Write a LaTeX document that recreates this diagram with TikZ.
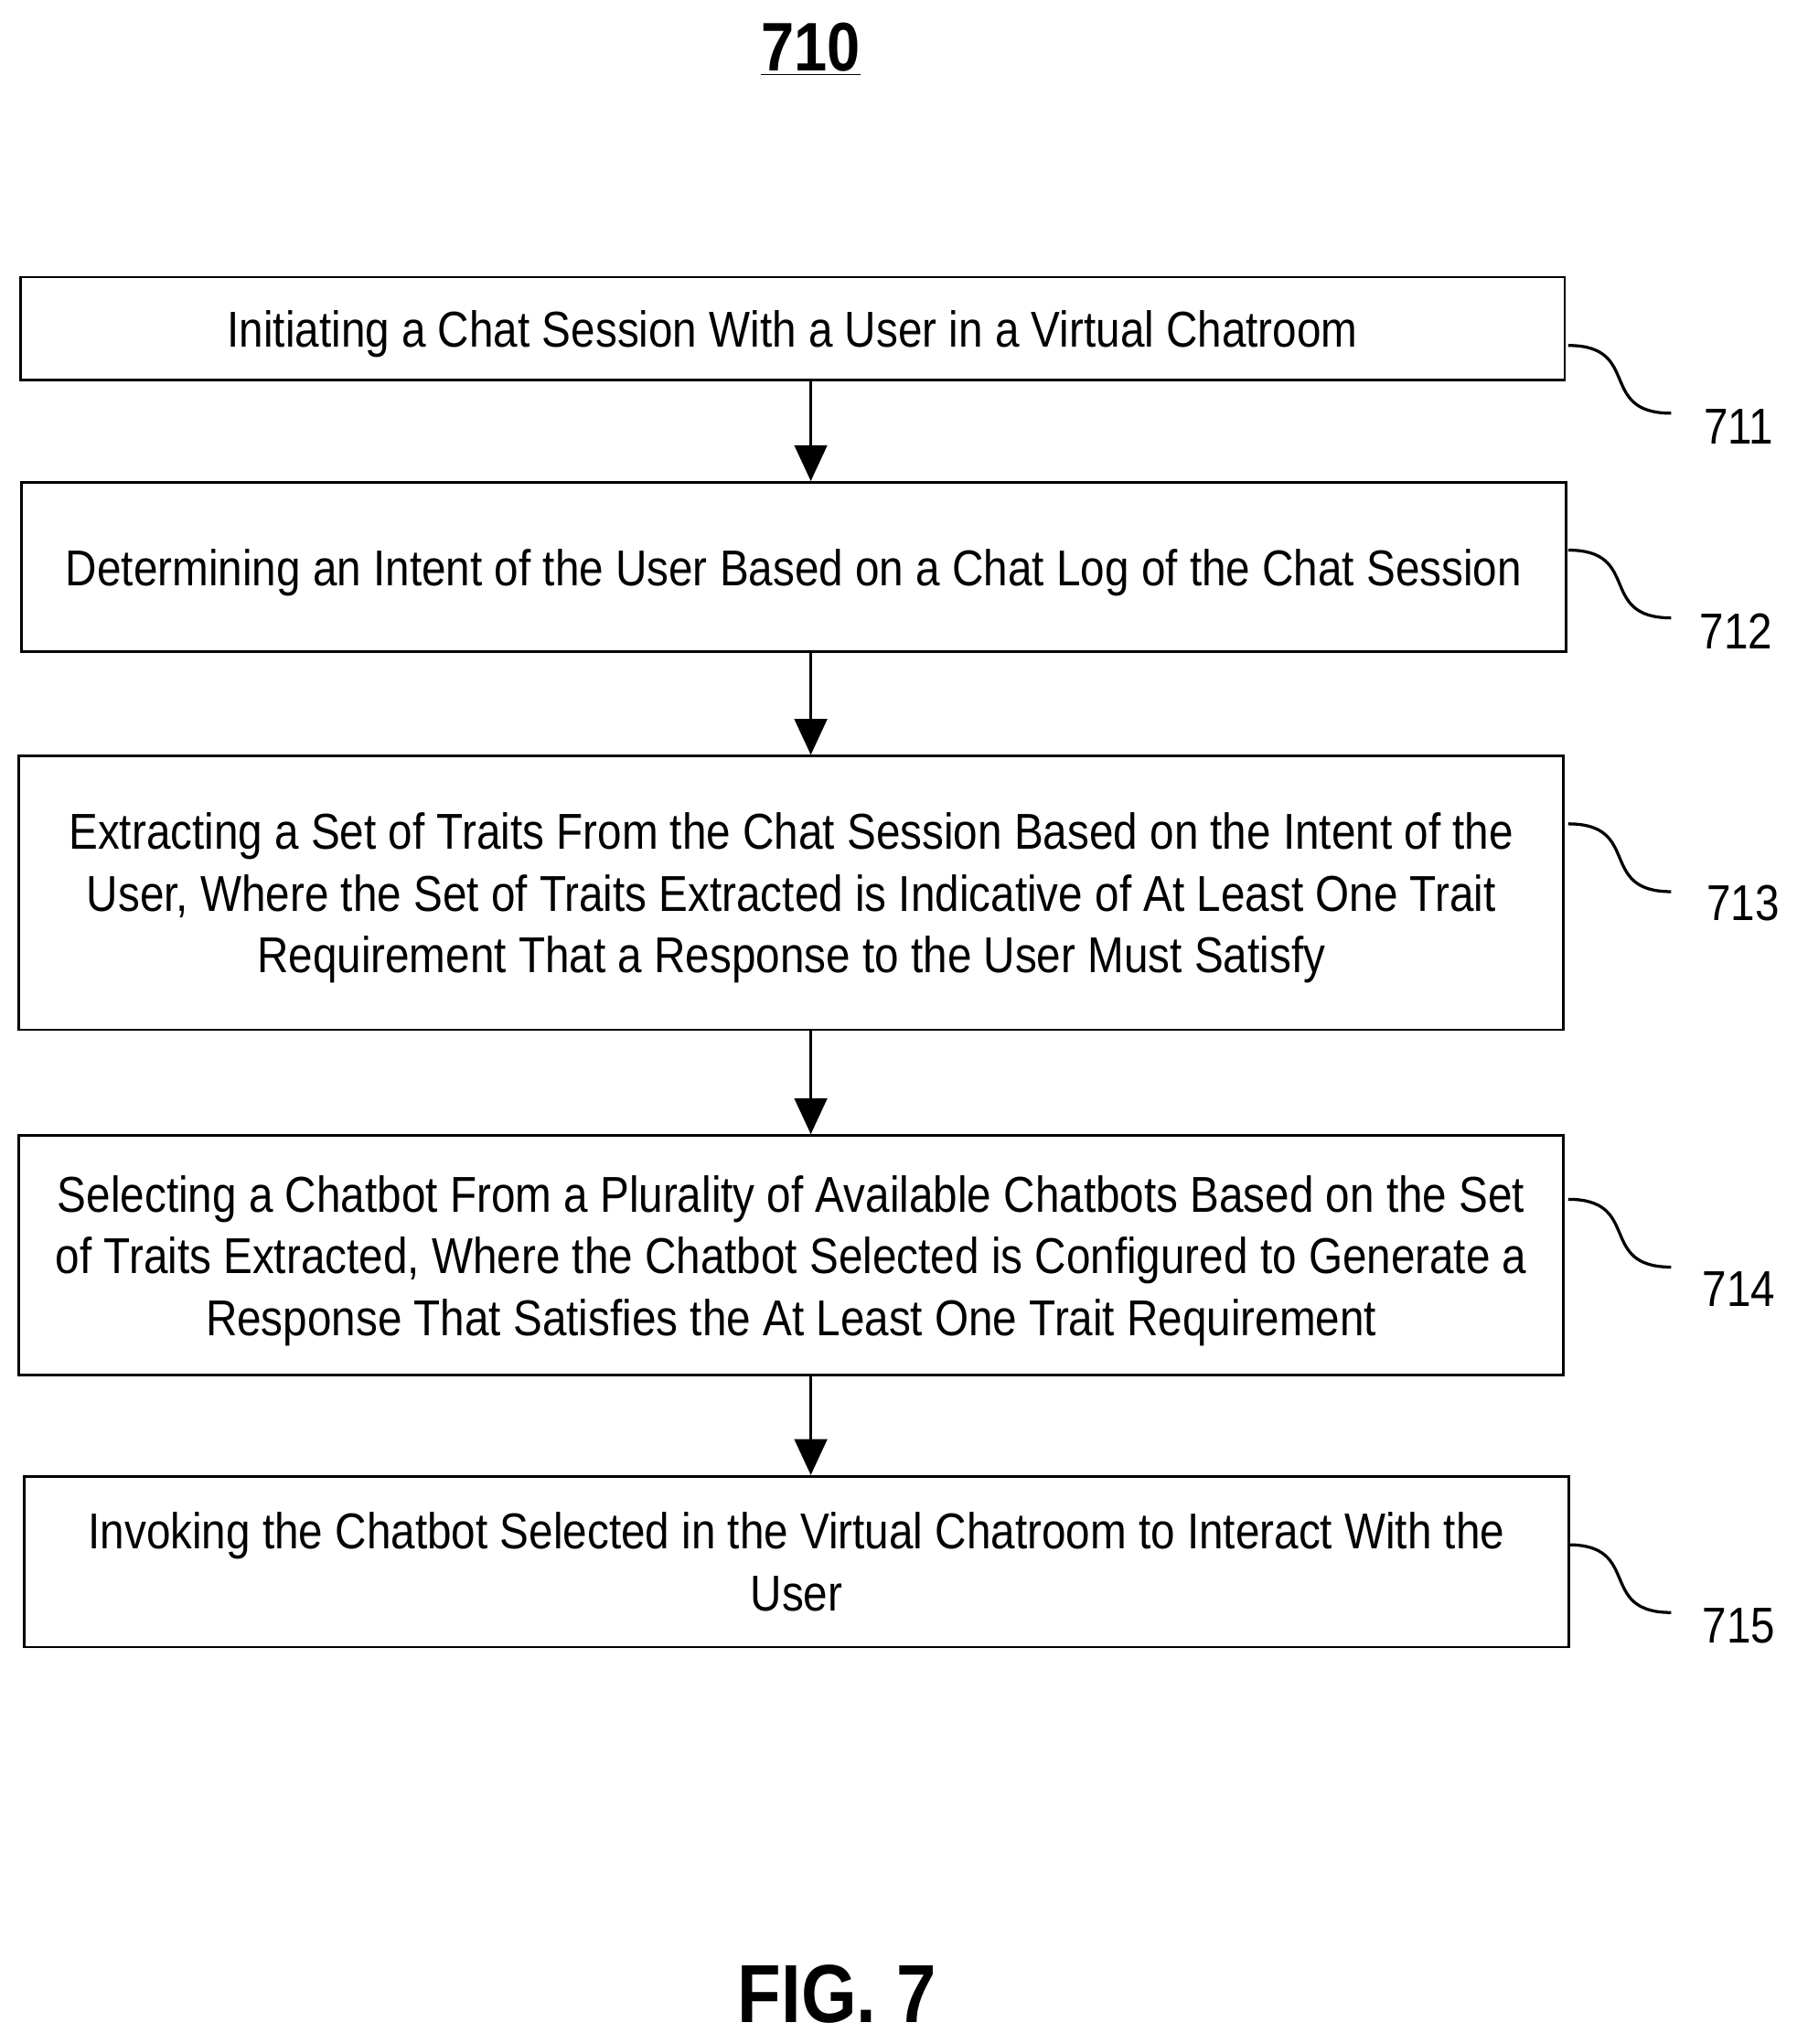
\documentclass[tikz,border=0pt]{standalone}
\usepackage{fontspec}
\setmainfont{Liberation Sans}[FakeStretch=0.865]
\usetikzlibrary{arrows.meta,positioning}
\tikzset{
    flowbox/.style = {draw, line width=1.1pt, rectangle, align=center, font=\fontsize{22}{27}\selectfont,
        minimum width=23.7cm, inner sep=0pt, text depth=-0.15cm},
    arrow/.style = {draw, line width=1.1pt, -{Triangle[length=0.55cm,width=0.5cm]}},
    tag/.style = {font=\fontsize{22}{27}\selectfont},
    squig/.style = {draw, line width=1.3pt}
}
\begin{document}
\begin{tikzpicture}[x=0.02cm,y=-0.02cm]
    \useasboundingbox (0,0) rectangle (1378,1568);
    \node[font=\bfseries\fontsize{30}{36}\selectfont] (title) at (622,38) {\underline{710}};
    \node[flowbox, minimum height=1.58cm] (s1) at (608,252) {Initiating a Chat Session With a User in a Virtual Chatroom};
    \node[flowbox, minimum height=2.6cm] (s2) at (609,435) {Determining an Intent of the User Based on a Chat Log of the Chat Session};
    \node[flowbox, minimum height=4.2cm] (s3) at (607,685) {Extracting a Set of Traits From the Chat Session Based on the Intent of the\\User, Where the Set of Traits Extracted is Indicative of At Least One Trait\\Requirement That a Response to the User Must Satisfy};
    \node[flowbox, minimum height=3.68cm] (s4) at (607,963) {Selecting a Chatbot From a Plurality of Available Chatbots Based on the Set\\of Traits Extracted, Where the Chatbot Selected is Configured to Generate a\\Response That Satisfies the At Least One Trait Requirement};
    \node[flowbox, minimum height=2.62cm] (s5) at (611,1198) {Invoking the Chatbot Selected in the Virtual Chatroom to Interact With the\\User};
    % arrows
    \draw[arrow] (s1.south -| 622,0) -- (s2.north -| 622,0);
    \draw[arrow] (s2.south -| 622,0) -- (s3.north -| 622,0);
    \draw[arrow] (s3.south -| 622,0) -- (s4.north -| 622,0);
    \draw[arrow] (s4.south -| 622,0) -- (s5.north -| 622,0);
    % reference labels
    \foreach \n/\y/\ly/\lx in {711/265/327/1334, 712/422/484/1332, 713/632/693/1337, 714/920/989/1334, 715/1185/1247/1334} {
        \node[tag] (t\n) at (\lx,\ly) {\n};
        \draw[squig] (1203,\y) .. controls (1260,\y) and (1225,{\y+52}) .. (1282,{\y+52});
    }
    \node[font=\bfseries\fontsize{36}{42}\selectfont] (fig) at (642,1530) {FIG. 7};
\end{tikzpicture}
\end{document}
